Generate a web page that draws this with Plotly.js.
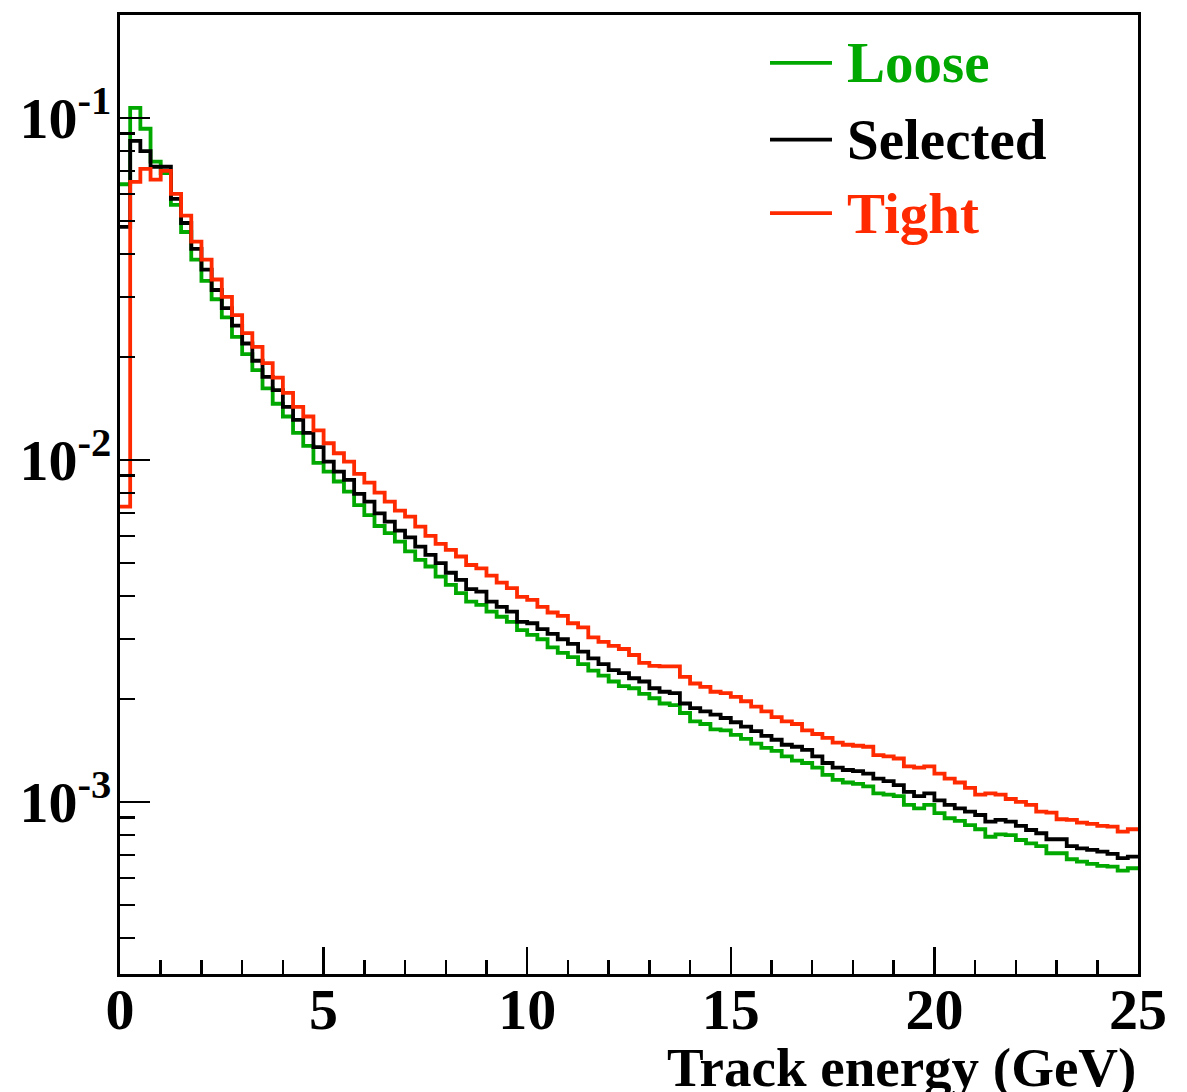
<!DOCTYPE html>
<html><head><meta charset="utf-8">
<script src="https://cdn.plot.ly/plotly-3.0.1.min.js"></script>
<style>html,body{margin:0;padding:0;background:#fff}</style>
</head><body><div id="chart" style="width:1187px;height:1092px"></div>
<script>
// ---- data ----
const binWidth = 0.25;
const xRange = [0, 25];
const yRange = [3.14e-4, 0.2];
const seriesNames = ['Loose', 'Selected', 'Tight'];
const seriesColors = ['#00a800', '#000000', '#ff2a00'];
const xTickVals = [0, 5, 10, 15, 20, 25];
const xTickText = ['0', '5', '10', '15', '20', '25'];
const yTickVals = [0.001, 0.01, 0.1];
const yTickText = ['10<sup>-3</sup>', '10<sup>-2</sup>', '10<sup>-1</sup>'];
const xTitle = 'Track energy (GeV)';

const loose = [
  0.064, 0.107, 0.093, 0.0745, 0.069, 0.0557, 0.0464, 0.0385, 0.0334, 0.0295,
  0.0261, 0.0229, 0.0204, 0.0183, 0.0162, 0.0146, 0.0134, 0.0120, 0.0110, 0.0098,
  0.00925, 0.00865, 0.00808, 0.00738, 0.00690, 0.00641, 0.00611, 0.00577, 0.00540, 0.00510,
  0.00488, 0.00456, 0.00431, 0.00408, 0.00385, 0.00377, 0.00360, 0.00348, 0.00336, 0.00318,
  0.00308, 0.00299, 0.00283, 0.00273, 0.00265, 0.00253, 0.00242, 0.00234, 0.00225, 0.00218,
  0.00215, 0.00207, 0.00201, 0.00194, 0.00192, 0.00182, 0.00172, 0.00169, 0.00163, 0.00162,
  0.00157, 0.00153, 0.00148, 0.00144, 0.00141, 0.00136, 0.00132, 0.00130, 0.00126, 0.00120,
  0.00116, 0.00114, 0.00113, 0.00111, 0.00106, 0.00105, 0.00104, 0.000980, 0.000958, 0.000980,
  0.000927, 0.000896, 0.000880, 0.000856, 0.000832, 0.000791, 0.000804, 0.000800, 0.000774, 0.000757,
  0.000743, 0.000708, 0.000708, 0.000680, 0.000669, 0.000659, 0.000650, 0.000647, 0.000630, 0.000640
];
const selected = [
  0.048, 0.0857, 0.080, 0.072, 0.072, 0.058, 0.0493, 0.0414, 0.036, 0.0314,
  0.0278, 0.0247, 0.0219, 0.0195, 0.0175, 0.0160, 0.0143, 0.0131, 0.0120, 0.0109,
  0.00989, 0.00925, 0.00875, 0.00796, 0.00755, 0.00698, 0.00660, 0.00621, 0.00594, 0.00558,
  0.00528, 0.00499, 0.00468, 0.00446, 0.00419, 0.00412, 0.00385, 0.00372, 0.00360, 0.00336,
  0.00333, 0.00320, 0.00310, 0.00299, 0.00290, 0.00275, 0.00263, 0.00253, 0.00243, 0.00238,
  0.00230, 0.00225, 0.00215, 0.00210, 0.00208, 0.00194, 0.00188, 0.00184, 0.00180, 0.00176,
  0.00171, 0.00166, 0.00161, 0.00156, 0.00152, 0.00147, 0.00145, 0.00142, 0.00136, 0.00130,
  0.00126, 0.00124, 0.00123, 0.00121, 0.00117, 0.00115, 0.00112, 0.00107, 0.00104, 0.00106,
  0.00101, 0.000980, 0.000958, 0.000937, 0.000916, 0.000876, 0.000886, 0.000876, 0.000851, 0.000828,
  0.000810, 0.000778, 0.000778, 0.000743, 0.000732, 0.000724, 0.000716, 0.000705, 0.000685, 0.000692
];
const tight = [
  0.0073, 0.065, 0.071, 0.066, 0.070, 0.060, 0.0518, 0.0435, 0.0385, 0.0337,
  0.0300, 0.0265, 0.0235, 0.0214, 0.0192, 0.0174, 0.0157, 0.0143, 0.0134, 0.0122,
  0.01119, 0.01046, 0.00989, 0.00910, 0.00859, 0.00802, 0.00755, 0.00711, 0.00683, 0.00638,
  0.00600, 0.00568, 0.00546, 0.00522, 0.00493, 0.00482, 0.00459, 0.00438, 0.00422, 0.00398,
  0.00390, 0.00372, 0.00358, 0.00350, 0.00333, 0.00324, 0.00303, 0.00294, 0.00286, 0.00280,
  0.00269, 0.00255, 0.00250, 0.00249, 0.00249, 0.00232, 0.00222, 0.00217, 0.00210, 0.00208,
  0.00203, 0.00197, 0.00190, 0.00184, 0.00177, 0.00172, 0.00169, 0.00162, 0.00158, 0.00154,
  0.00149, 0.00147, 0.00146, 0.00145, 0.00137, 0.00136, 0.00134, 0.00127, 0.00126, 0.00127,
  0.00121, 0.00117, 0.00114, 0.00110, 0.00105, 0.00106, 0.00105, 0.00102, 0.00100, 0.000980,
  0.000937, 0.000931, 0.000890, 0.000886, 0.000870, 0.000863, 0.000851, 0.000847, 0.000819, 0.000832
];

// ---- build ----
const allSeries = [loose, selected, tight];
const FONT = 'Liberation Serif, Times New Roman, serif';

function stepTrace(vals, name, color) {
  const x = vals.map((_, i) => i * binWidth);
  x.push(vals.length * binWidth);
  const y = vals.slice();
  y.push(vals[vals.length - 1]);
  return {
    type: 'scatter', mode: 'lines', x: x, y: y, name: name,
    line: {shape: 'hv', color: color, width: 3.8},
    showlegend: false, hoverinfo: 'x+y'
  };
}
const traces = allSeries.map((v, i) => stepTrace(v, seriesNames[i], seriesColors[i]));

// minor log ticks
const yMinor = [];
for (let d = -4; d <= -1; d++) {
  for (let m = 2; m <= 9; m++) {
    const v = m * Math.pow(10, d);
    if (v >= yRange[0] && v <= yRange[1]) yMinor.push(v);
  }
}

// legend (drawn as shapes + text)
const legendY = [0.950, 0.870, 0.7935];
const shapes = [];
const annotations = [];
seriesNames.forEach((n, i) => {
  shapes.push({type: 'line', xref: 'paper', yref: 'paper',
    x0: 0.6385, x1: 0.6994, y0: legendY[i], y1: legendY[i],
    line: {color: seriesColors[i], width: 3.8}});
  annotations.push({xref: 'paper', yref: 'paper', x: 0.7125, y: legendY[i],
    xanchor: 'left', yanchor: 'middle', text: n, showarrow: false,
    font: {family: FONT, size: 57, color: seriesColors[i], weight: 'bold'}});
});
annotations.push({xref: 'paper', yref: 'paper', x: 1.0, y: 0, xanchor: 'right',
  yanchor: 'middle', yshift: -93, text: xTitle, showarrow: false,
  font: {family: FONT, size: 55, color: '#000', weight: 'bold'}});

const tickFont = {family: FONT, size: 58, color: '#000', weight: 'bold'};
const layout = {
  width: 1187, height: 1092,
  margin: {l: 120, r: 49, t: 15, b: 118, pad: 0},
  paper_bgcolor: '#fff', plot_bgcolor: '#fff',
  showlegend: false,
  xaxis: {
    range: xRange, tickmode: 'array', tickvals: xTickVals, ticktext: xTickText,
    ticks: 'inside', ticklen: 27, tickwidth: 2.5, tickcolor: '#000',
    ticklabelstandoff: -18,
    minor: {dtick: 1, tick0: 0, ticks: 'inside', ticklen: 14, tickwidth: 2.5, tickcolor: '#000', showgrid: false},
    showline: true, linewidth: 3, linecolor: '#000', mirror: true,
    showgrid: false, zeroline: false, tickfont: tickFont
  },
  yaxis: {
    type: 'log', range: [Math.log10(yRange[0]), Math.log10(yRange[1])],
    tickmode: 'array', tickvals: yTickVals, ticktext: yTickText,
    ticks: 'inside', ticklen: 30, tickwidth: 2.5, tickcolor: '#000',
    ticklabelstandoff: -6,
    minor: {tickmode: 'array', tickvals: yMinor, ticks: 'inside', ticklen: 15, tickwidth: 2.5, tickcolor: '#000', showgrid: false},
    showline: true, linewidth: 3, linecolor: '#000', mirror: true,
    showgrid: false, zeroline: false, tickfont: tickFont
  },
  shapes: shapes,
  annotations: annotations
};
Plotly.newPlot('chart', traces, layout, {staticPlot: true, displayModeBar: false});
</script>
</body></html>
